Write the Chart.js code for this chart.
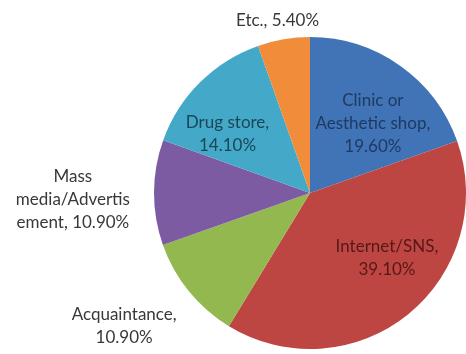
<!DOCTYPE html>
<html>
<head>
<meta charset="utf-8">
<script src="https://cdn.jsdelivr.net/npm/chart.js@4/dist/chart.umd.min.js"></script>
<style>
    html, body { margin: 0; padding: 0; background: #fff; }
    #wrap { width: 466px; height: 354px; }
</style>
</head>
<body>
<div id="wrap"><canvas id="purchaseChannelChart" width="466" height="354"></canvas></div>
<script>
// Purchase channel shares (%), clockwise from 12 o'clock
const channels = ['Clinic or Aesthetic shop', 'Internet/SNS', 'Acquaintance', 'Mass media/Advertisement', 'Drug store', 'Etc.'];
const shares = [19.6, 39.1, 10.9, 10.9, 14.1, 5.4];
// Label text as wrapped in the chart
const labelLines = [
    ['Clinic or', 'Aesthetic shop,', '19.60%'],
    ['Internet/SNS,', '39.10%'],
    ['Acquaintance,', '10.90%'],
    ['Mass', 'media/Advertis', 'ement, 10.90%'],
    ['Drug store,', '14.10%'],
    ['Etc., 5.40%']
];

const sliceColors = ['#4174b6', '#bd4643', '#93b84f', '#7c5ba2', '#44a9c9', '#f18d3a'];
const textColors = ['#1d3a62', '#561816', '#383838', '#383838', '#1a4656', '#383838'];
// radial distance (fraction of radius) and pixel nudge for each label
const labelPlacement = [
    { dist: 0.62, dx: 7, dy: 9 },
    { dist: 0.62, dx: 16, dy: -10 },
    { dist: 1.46, dx: -9, dy: -11 },
    { dist: 1.52, dx: 0, dy: 7 },
    { dist: 0.65, dx: -11, dy: 13 },
    { dist: 1.12, dx: -3, dy: 0 }
];

(function() {
    'use strict';

    const LINE_HEIGHT = 23;

    // Draws wrapped labels around / inside each slice
    const sliceLabels = {
        id: 'sliceLabels',
        afterDatasetsDraw(chart) {
            const ctx = chart.ctx;
            const meta = chart.getDatasetMeta(0);
            ctx.save();
            ctx.font = '17px Lato, "Open Sans", sans-serif';
            ctx.textAlign = 'center';
            ctx.textBaseline = 'middle';
            meta.data.forEach((arc, i) => {
                const p = arc.getProps(['x', 'y', 'startAngle', 'endAngle', 'outerRadius'], true);
                const mid = (p.startAngle + p.endAngle) / 2;
                const place = labelPlacement[i];
                const d = p.outerRadius * place.dist;
                const cx = p.x + Math.cos(mid) * d + place.dx;
                const cy = p.y + Math.sin(mid) * d + place.dy;
                const lines = labelLines[i];
                const top = cy - (lines.length - 1) * LINE_HEIGHT / 2;
                ctx.fillStyle = textColors[i];
                lines.forEach((line, j) => {
                    ctx.fillText(line, cx, top + j * LINE_HEIGHT);
                });
            });
            ctx.restore();
        }
    };

    new Chart(document.getElementById('purchaseChannelChart').getContext('2d'), {
        type: 'pie',
        data: {
            labels: channels,
            datasets: [{
                data: shares,
                backgroundColor: sliceColors,
                borderWidth: 0
            }]
        },
        options: {
            responsive: false,
            animation: false,
            layout: {
                padding: { left: 154, right: 0, top: 37, bottom: 5 }
            },
            plugins: {
                legend: { display: false },
                tooltip: { enabled: false }
            }
        },
        plugins: [sliceLabels]
    });
})();
</script>
</body>
</html>
